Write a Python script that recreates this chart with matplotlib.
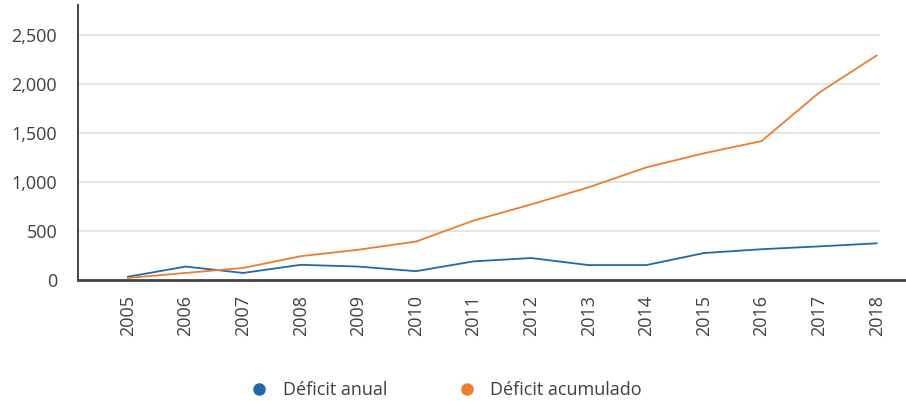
import matplotlib
matplotlib.use("Agg")
import matplotlib.pyplot as plt
from matplotlib.lines import Line2D

plt.rcParams['font.family'] = ['Open Sans', 'DejaVu Sans']

years = ['2005', '2006', '2007', '2008', '2009', '2010', '2011',
         '2012', '2013', '2014', '2015', '2016', '2017', '2018']
deficit_anual = [33, 137, 72, 155, 137, 90, 190, 224, 152, 152, 275, 314, 343, 374]
deficit_acumulado = [21, 72, 123, 243, 309, 392, 606, 771, 946, 1149, 1293, 1417, 1911, 2291]
yticks = [0, 500, 1000, 1500, 2000, 2500]
series_labels = ['Déficit anual', 'Déficit acumulado']

blue = '#2068A8'
orange = '#ED7D31'
text_col = '#404040'

fig = plt.figure(figsize=(9.06, 4.01), dpi=100)
ax = fig.add_axes([78 / 906, 1 - 280 / 401, 828 / 906, 275 / 401])

x = list(range(len(years)))
xl, xr = -0.868, 13.51
ax.set_xlim(xl, xr)
ax.set_ylim(0, 2806)

# gridlines stop at the last category
ax.hlines(yticks[1:], xl, 13.06, color='#e3e3e3', linewidth=1.3, zorder=1)

ax.plot(x, deficit_anual, color=blue, linewidth=1.3, zorder=3)
ax.plot(x, deficit_acumulado, color=orange, linewidth=1.3, zorder=3)

ax.set_xticks(x)
ax.set_xticklabels(years, rotation=90, fontsize=13, color=text_col)
ax.set_yticks(yticks)
ax.set_yticklabels([f"{v:,}" for v in yticks], fontsize=13, color=text_col)
ax.tick_params(axis='x', length=0, pad=11)
ax.tick_params(axis='y', length=0, pad=15)

for s in ['top', 'right']:
    ax.spines[s].set_visible(False)
ax.spines['left'].set_color('#444444')
ax.spines['left'].set_linewidth(1.4)
ax.spines['bottom'].set_color('#444444')
ax.spines['bottom'].set_linewidth(2)

handles = [Line2D([], [], linestyle='none', marker='o', markersize=8, color=c)
           for c in (blue, orange)]
leg = fig.legend(handles, series_labels, loc='center', bbox_to_anchor=(446 / 906, 1 - 390 / 401),
                 ncol=2, frameon=False, fontsize=13, handletextpad=0.8, columnspacing=3.9,
                 handlelength=1.0)
for t in leg.get_texts():
    t.set_color(text_col)

fig.savefig('out.png', dpi=100, facecolor='white')
